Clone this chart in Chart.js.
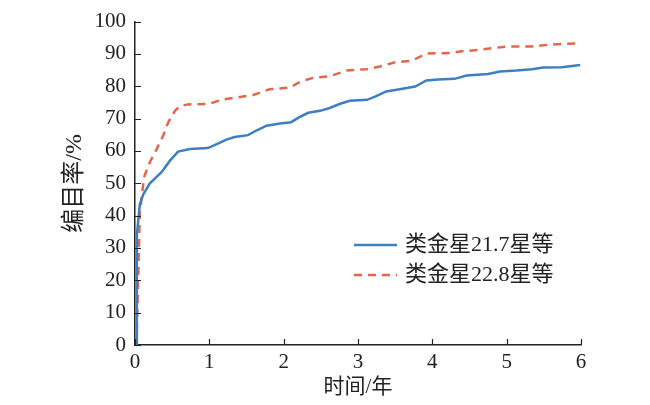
<!DOCTYPE html>
<html>
<head>
<meta charset="utf-8">
<script src="https://cdn.jsdelivr.net/npm/chart.js@4"></script>
<style>
  html, body { margin: 0; padding: 0; background: #fff; }
  #wrap { width: 650px; height: 405px; }
</style>
</head>
<body>
<div id="wrap"><canvas id="chart"></canvas></div>
<script>
// Values
const xTicks = [0, 1, 2, 3, 4, 5, 6];
const yTicks = [0, 10, 20, 30, 40, 50, 60, 70, 80, 90, 100];

const seriesLabels = ['类金星21.7星等', '类金星22.8星等'];

const blueTime = [0.015, 0.025, 0.065, 0.11, 0.2, 0.29, 0.36, 0.47, 0.58, 0.74, 0.98, 1.07, 1.23, 1.34, 1.52,
  1.64, 1.77, 1.95, 2.1, 2.2, 2.33, 2.49, 2.62, 2.76, 2.89, 3.12, 3.23, 3.38, 3.56, 3.77, 3.92,
  4.08, 4.3, 4.46, 4.75, 4.91, 5.13, 5.34, 5.49, 5.74, 5.99];
const blueRate = [0, 34, 43.5, 46.5, 50, 52, 53.5, 57, 59.8, 60.6, 60.9, 61.8, 63.5, 64.3, 64.9,
  66.4, 67.8, 68.5, 68.9, 70.3, 71.8, 72.4, 73.3, 74.6, 75.5, 75.8, 76.8, 78.4, 79.1, 79.9, 81.8,
  82.1, 82.3, 83.3, 83.8, 84.6, 84.9, 85.3, 85.8, 85.9, 86.6];

const redTime = [0.02, 0.065, 0.11, 0.13, 0.2, 0.29, 0.38, 0.45, 0.54, 0.6, 0.71, 0.99, 1.17, 1.41, 1.59,
  1.81, 2.08, 2.24, 2.4, 2.62, 2.85, 3.12, 3.29, 3.5, 3.7, 3.79, 3.92, 4.24, 4.39, 4.64, 4.82,
  5.0, 5.36, 5.58, 5.99];
const redRate = [0, 41, 49.5, 52.5, 56.5, 60.5, 64.8, 69, 72.5, 73.8, 74.4, 74.5, 75.9, 76.7, 77.3,
  79.1, 79.6, 81.6, 82.6, 83.1, 84.9, 85.3, 86.1, 87.4, 87.8, 88.6, 90.1, 90.3, 90.8, 91.3, 91.8,
  92.3, 92.3, 92.9, 93.3];

const BLUE = '#3d7fc1';
const RED = '#e2664a';
const INK = '#222';
const SERIF = "'Liberation Serif', 'Noto Sans CJK SC', serif";

const toPoints = (xs, ys) => xs.map((x, i) => ({ x, y: ys[i] }));

/** Inward tick marks on both axes */
const innerTicks = {
  id: 'innerTicks',
  afterDraw(chart) {
    const { ctx, chartArea: a, scales: { x, y } } = chart;
    ctx.save();
    ctx.strokeStyle = INK;
    ctx.lineWidth = 1.2;
    ctx.beginPath();
    xTicks.forEach(v => {
      const px = Math.round(x.getPixelForValue(v)) + 0.5;
      ctx.moveTo(px, a.bottom);
      ctx.lineTo(px, a.bottom - 6);
    });
    yTicks.forEach(v => {
      const py = Math.round(y.getPixelForValue(v)) + 0.5;
      ctx.moveTo(a.left, py);
      ctx.lineTo(a.left + 6, py);
    });
    ctx.stroke();
    ctx.restore();
  }
};

/** Legend drawn inside the plot area */
const innerLegend = {
  id: 'innerLegend',
  afterDraw(chart) {
    const { ctx } = chart;
    const rows = [245, 275];
    ctx.save();
    ctx.font = '22px ' + SERIF;
    ctx.textBaseline = 'middle';
    chart.data.datasets.forEach((ds, i) => {
      const yy = rows[i];
      ctx.strokeStyle = ds.borderColor;
      ctx.lineWidth = ds.borderWidth;
      ctx.setLineDash(ds.borderDash || []);
      ctx.beginPath();
      ctx.moveTo(354, yy);
      ctx.lineTo(397, yy);
      ctx.stroke();
      ctx.setLineDash([]);
      ctx.fillStyle = INK;
      ctx.fillText(ds.label, 405, yy);
    });
    ctx.restore();
  }
};

new Chart(document.getElementById('chart'), {
  type: 'line',
  data: {
    datasets: [
      {
        label: seriesLabels[0],
        data: toPoints(blueTime, blueRate),
        borderColor: BLUE,
        borderWidth: 2.5,
        pointRadius: 0,
        tension: 0,
        clip: false
      },
      {
        label: seriesLabels[1],
        data: toPoints(redTime, redRate),
        borderColor: RED,
        borderWidth: 2.5,
        borderDash: [8, 6],
        pointRadius: 0,
        tension: 0,
        clip: false
      }
    ]
  },
  options: {
    responsive: true,
    maintainAspectRatio: false,
    animation: false,
    layout: { padding: { left: 0, top: 12, right: 69, bottom: 0 } },
    plugins: {
      legend: { display: false },
      tooltip: { enabled: false }
    },
    scales: {
      x: {
        type: 'linear',
        min: 0,
        max: 6,
        afterFit: (s) => { s.height = 60; },
        afterBuildTicks: (s) => { s.ticks = xTicks.map(v => ({ value: v })); },
        grid: { drawOnChartArea: false, drawTicks: false },
        border: { color: INK, width: 1.5 },
        ticks: { color: INK, padding: 5, font: { family: SERIF, size: 21 } },
        title: {
          display: true,
          text: '时间/年',
          color: INK,
          padding: { top: 0, bottom: 5 },
          font: { family: SERIF, size: 21 }
        }
      },
      y: {
        min: 0,
        max: 100,
        afterFit: (s) => { s.width = 135; },
        afterBuildTicks: (s) => { s.ticks = yTicks.map(v => ({ value: v })); },
        grid: { drawOnChartArea: false, drawTicks: false },
        border: { color: INK, width: 1.5 },
        ticks: { color: INK, padding: 9, font: { family: SERIF, size: 21 } },
        title: {
          display: true,
          text: '编目率/%',
          color: INK,
          padding: { top: 60, bottom: 0 },
          font: { family: SERIF, size: 24 }
        }
      }
    }
  },
  plugins: [innerTicks, innerLegend]
});
</script>
</body>
</html>
